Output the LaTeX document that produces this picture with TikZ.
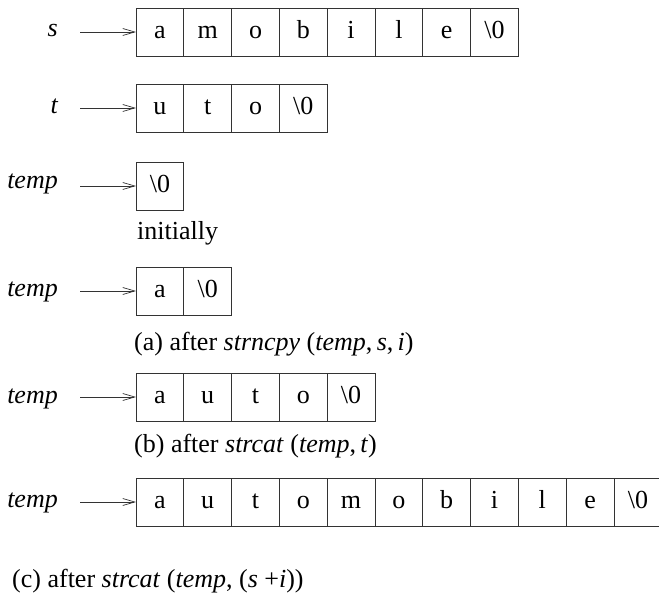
\documentclass[tikz,border=0pt]{standalone}
\usepackage{fontspec}
\setmainfont{Liberation Serif}
\usetikzlibrary{arrows.meta}
\tikzset{
  every cell/.style={draw=black!80, line width=0.8pt, minimum width=47.8pt,
    minimum height=48pt, inner sep=0pt, outer sep=0pt,
    text height=18pt, text depth=5pt,
    font=\fontsize{26}{30}\selectfont},
  ptr label/.style={anchor=base east, inner sep=0pt,
    font=\fontsize{26}{30}\selectfont\itshape},
  ptr/.style={draw=black!80, line width=0.7pt,
    -{Straight Barb[length=12pt,width=7pt]}},
  caption/.style={anchor=base west, inner sep=0pt, font=\fontsize{26}{30}\selectfont},
}
\newcommand\nulch{\textbackslash 0}

\begin{document}
\begin{tikzpicture}[x=1pt,y=-1pt]
\useasboundingbox (0,0) rectangle (659,596);
% one row of character cells per string
\foreach \str/\lbl/\y/\base/\chars in {
  s/s/32/37/{a,m,o,b,i,l,e,\nulch},
  t/t/108/114/{u,t,o,\nulch},
  t0/temp/186/189/{\nulch},
  ta/temp/291/297/{a,\nulch},
  tb/temp/397/403/{a,u,t,o,\nulch},
  tc/temp/502/507/{a,u,t,o,m,o,b,i,l,e,\nulch}}
{
  \node[ptr label] (\str-name) at (58,\base) {\lbl};
  \coordinate (\str-tail) at (80,\y);
  \foreach \ch [count=\i] in \chars
    \node[every cell] (\str-\i) at ({136+(\i-0.5)*47.8},\y) {\ch};
  \draw[ptr] (\str-tail) -- (\str-1);
}
% captions under the temp rows
\node[caption] (cap0) at (137,240) {initially};
\node[caption] (capa) at (134,350) {(a) after \textit{strncpy} (\textit{temp},\,\textit{s},\,\textit{i})};
\node[caption] (capb) at (134,452) {(b) after \textit{strcat} (\textit{temp},\,\textit{t})};
\node[caption] (capc) at (12,587) {(c) after \textit{strcat} (\textit{temp}, (\textit{s} +\textit{i}))};
\end{tikzpicture}
\end{document}
